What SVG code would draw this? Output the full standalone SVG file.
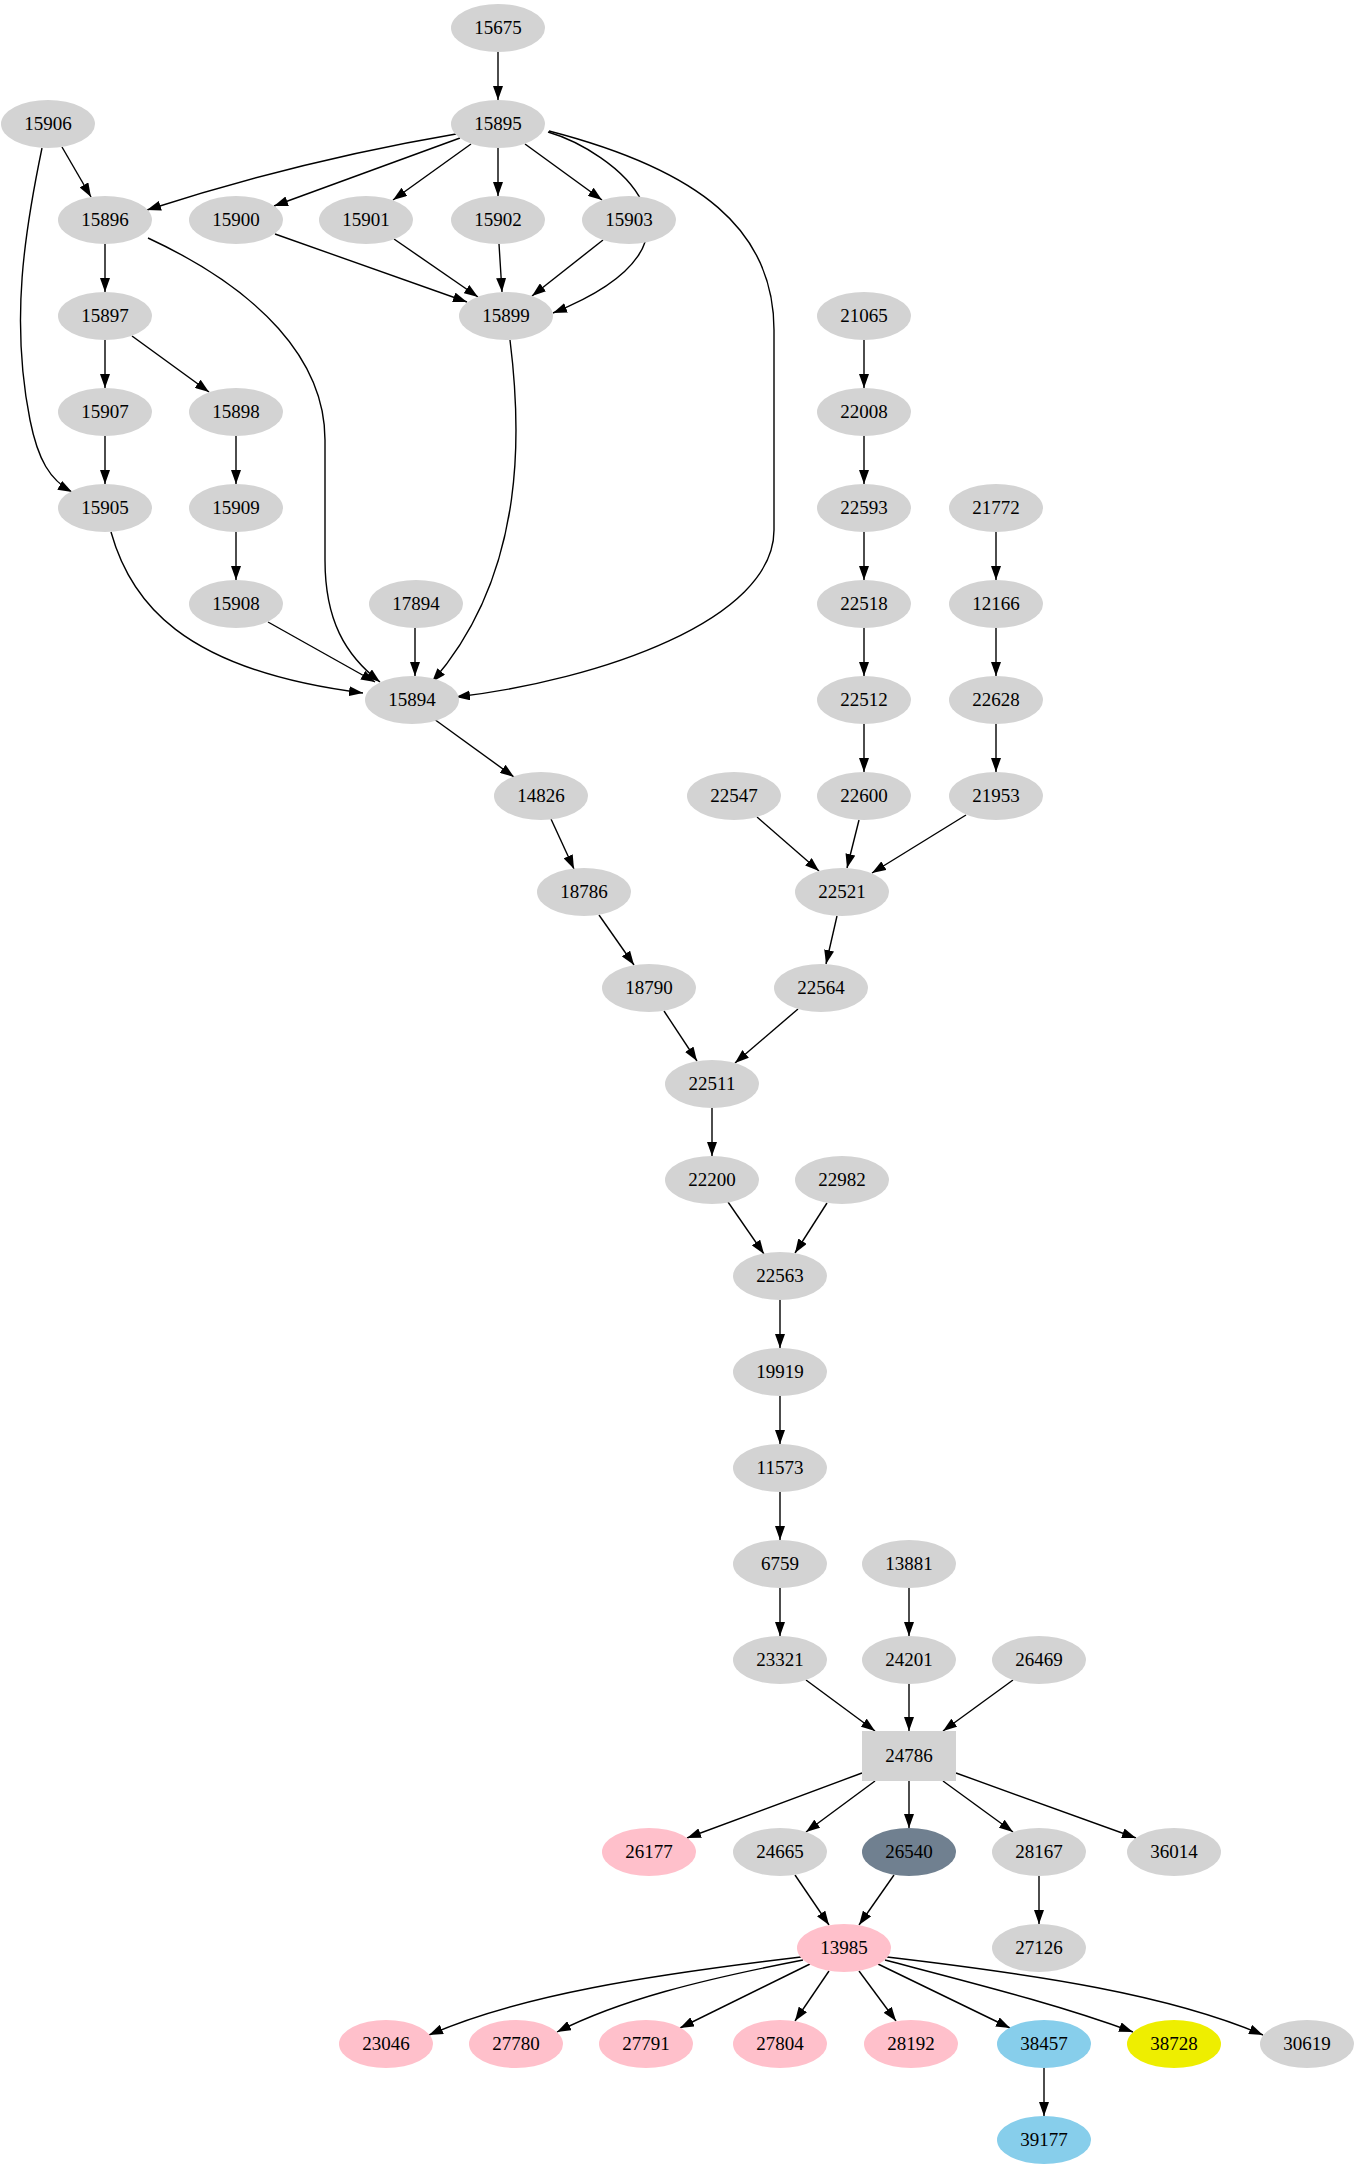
<svg xmlns="http://www.w3.org/2000/svg" width="1369" height="2171" viewBox="0 0 1369 2171">
<style>
.n ellipse,.n rect{fill:#d3d3d3;stroke:none}
.p ellipse{fill:#ffc0cb}
.s ellipse{fill:#87ceeb}
text{font-family:"Liberation Serif","Times New Roman",serif;font-size:19px;text-anchor:middle;fill:#000}
#edges path,#edges line{stroke:#000;stroke-width:1.4;fill:none;marker-end:url(#a)}
</style>
<defs><marker id="a" markerUnits="userSpaceOnUse" markerWidth="14" markerHeight="10" refX="14" refY="5" orient="auto"><path d="M0,0L14,5L0,10z" fill="#000"/></marker></defs>
<rect width="1369" height="2171" fill="#fff"/>
<g id="edges">
<line x1="498" y1="52" x2="498" y2="100"/>
<line x1="62" y1="147" x2="91" y2="197"/>
<path d="M456,134 C350,152 240,180 147,210"/>
<line x1="460" y1="138" x2="274" y2="206"/>
<line x1="471" y1="144" x2="393" y2="200"/>
<line x1="498" y1="148" x2="498" y2="196"/>
<line x1="525" y1="144" x2="602" y2="200"/>
<path d="M548,132 C610,150 735,240 553,313"/>
<path d="M549,131 C700,170 774,230 774,330 L774,530 C774,620 600,680 456,697"/>
<line x1="105" y1="244" x2="105" y2="292"/>
<path d="M148,238 C260,290 325,360 325,440 L325,560 C325,620 345,655 380,682"/>
<line x1="105" y1="340" x2="105" y2="388"/>
<line x1="132" y1="336" x2="209" y2="392"/>
<line x1="236" y1="436" x2="236" y2="484"/>
<line x1="105" y1="436" x2="105" y2="484"/>
<path d="M42,148 C25,230 10,320 30,420 C38,460 50,480 72,492"/>
<line x1="236" y1="532" x2="236" y2="580"/>
<line x1="268" y1="622" x2="375" y2="682"/>
<line x1="415" y1="628" x2="415" y2="676"/>
<path d="M510,340 C520,420 530,570 432,682"/>
<path d="M111,532 C130,600 180,670 363,693"/>
<line x1="275" y1="234" x2="467" y2="302"/>
<line x1="394" y1="239" x2="478" y2="297"/>
<line x1="499" y1="244" x2="502" y2="292"/>
<line x1="603" y1="240" x2="532" y2="296"/>
<line x1="864" y1="340" x2="864" y2="388"/>
<line x1="864" y1="436" x2="864" y2="484"/>
<line x1="864" y1="532" x2="864" y2="580"/>
<line x1="864" y1="628" x2="864" y2="676"/>
<line x1="864" y1="724" x2="864" y2="772"/>
<line x1="996" y1="532" x2="996" y2="580"/>
<line x1="996" y1="628" x2="996" y2="676"/>
<line x1="996" y1="724" x2="996" y2="772"/>
<line x1="434" y1="719" x2="514" y2="777"/>
<line x1="551" y1="819" x2="574" y2="869"/>
<line x1="599" y1="915" x2="634" y2="965"/>
<line x1="757" y1="817" x2="819" y2="871"/>
<line x1="859" y1="820" x2="847" y2="868"/>
<line x1="966" y1="815" x2="872" y2="873"/>
<line x1="837" y1="916" x2="826" y2="964"/>
<line x1="664" y1="1011" x2="697" y2="1061"/>
<line x1="798" y1="1009" x2="735" y2="1063"/>
<line x1="712" y1="1108" x2="712" y2="1156"/>
<line x1="728" y1="1202" x2="764" y2="1254"/>
<line x1="827" y1="1203" x2="795" y2="1253"/>
<line x1="780" y1="1300" x2="780" y2="1348"/>
<line x1="780" y1="1396" x2="780" y2="1444"/>
<line x1="780" y1="1492" x2="780" y2="1540"/>
<line x1="780" y1="1588" x2="780" y2="1636"/>
<line x1="909" y1="1588" x2="909" y2="1636"/>
<line x1="806" y1="1680" x2="875" y2="1731"/>
<line x1="909" y1="1684" x2="909" y2="1731"/>
<line x1="1013" y1="1680" x2="943" y2="1731"/>
<line x1="862" y1="1773" x2="687" y2="1838"/>
<line x1="875" y1="1781" x2="806" y2="1832"/>
<line x1="909" y1="1781" x2="909" y2="1828"/>
<line x1="943" y1="1781" x2="1013" y2="1832"/>
<line x1="956" y1="1773" x2="1136" y2="1838"/>
<line x1="795" y1="1875" x2="829" y2="1925"/>
<line x1="894" y1="1875" x2="859" y2="1925"/>
<line x1="1039" y1="1876" x2="1039" y2="1924"/>
<path d="M801,1957 C650,1975 520,1995 429,2035"/>
<path d="M803,1960 C700,1980 620,2000 557,2032"/>
<line x1="810" y1="1964" x2="680" y2="2028"/>
<line x1="829" y1="1971" x2="795" y2="2021"/>
<line x1="859" y1="1971" x2="896" y2="2021"/>
<line x1="878" y1="1964" x2="1010" y2="2028"/>
<path d="M885,1960 C980,1985 1060,2005 1133,2032"/>
<path d="M887,1957 C1040,1975 1170,1995 1263,2035"/>
<line x1="1044" y1="2068" x2="1044" y2="2116"/>
</g>
<g id="n15675" class="n"><ellipse cx="498" cy="28" rx="47" ry="24"/><text x="498" y="34">15675</text></g>
<g id="n15906" class="n"><ellipse cx="48" cy="124" rx="47" ry="24"/><text x="48" y="130">15906</text></g>
<g id="n15895" class="n"><ellipse cx="498" cy="124" rx="47" ry="24"/><text x="498" y="130">15895</text></g>
<g id="n15896" class="n"><ellipse cx="105" cy="220" rx="47" ry="24"/><text x="105" y="226">15896</text></g>
<g id="n15900" class="n"><ellipse cx="236" cy="220" rx="47" ry="24"/><text x="236" y="226">15900</text></g>
<g id="n15901" class="n"><ellipse cx="366" cy="220" rx="47" ry="24"/><text x="366" y="226">15901</text></g>
<g id="n15902" class="n"><ellipse cx="498" cy="220" rx="47" ry="24"/><text x="498" y="226">15902</text></g>
<g id="n15903" class="n"><ellipse cx="629" cy="220" rx="47" ry="24"/><text x="629" y="226">15903</text></g>
<g id="n15897" class="n"><ellipse cx="105" cy="316" rx="47" ry="24"/><text x="105" y="322">15897</text></g>
<g id="n15899" class="n"><ellipse cx="506" cy="316" rx="47" ry="24"/><text x="506" y="322">15899</text></g>
<g id="n21065" class="n"><ellipse cx="864" cy="316" rx="47" ry="24"/><text x="864" y="322">21065</text></g>
<g id="n15907" class="n"><ellipse cx="105" cy="412" rx="47" ry="24"/><text x="105" y="418">15907</text></g>
<g id="n15898" class="n"><ellipse cx="236" cy="412" rx="47" ry="24"/><text x="236" y="418">15898</text></g>
<g id="n22008" class="n"><ellipse cx="864" cy="412" rx="47" ry="24"/><text x="864" y="418">22008</text></g>
<g id="n15905" class="n"><ellipse cx="105" cy="508" rx="47" ry="24"/><text x="105" y="514">15905</text></g>
<g id="n15909" class="n"><ellipse cx="236" cy="508" rx="47" ry="24"/><text x="236" y="514">15909</text></g>
<g id="n22593" class="n"><ellipse cx="864" cy="508" rx="47" ry="24"/><text x="864" y="514">22593</text></g>
<g id="n21772" class="n"><ellipse cx="996" cy="508" rx="47" ry="24"/><text x="996" y="514">21772</text></g>
<g id="n15908" class="n"><ellipse cx="236" cy="604" rx="47" ry="24"/><text x="236" y="610">15908</text></g>
<g id="n17894" class="n"><ellipse cx="416" cy="604" rx="47" ry="24"/><text x="416" y="610">17894</text></g>
<g id="n22518" class="n"><ellipse cx="864" cy="604" rx="47" ry="24"/><text x="864" y="610">22518</text></g>
<g id="n12166" class="n"><ellipse cx="996" cy="604" rx="47" ry="24"/><text x="996" y="610">12166</text></g>
<g id="n15894" class="n"><ellipse cx="412" cy="700" rx="47" ry="24"/><text x="412" y="706">15894</text></g>
<g id="n22512" class="n"><ellipse cx="864" cy="700" rx="47" ry="24"/><text x="864" y="706">22512</text></g>
<g id="n22628" class="n"><ellipse cx="996" cy="700" rx="47" ry="24"/><text x="996" y="706">22628</text></g>
<g id="n14826" class="n"><ellipse cx="541" cy="796" rx="47" ry="24"/><text x="541" y="802">14826</text></g>
<g id="n22547" class="n"><ellipse cx="734" cy="796" rx="47" ry="24"/><text x="734" y="802">22547</text></g>
<g id="n22600" class="n"><ellipse cx="864" cy="796" rx="47" ry="24"/><text x="864" y="802">22600</text></g>
<g id="n21953" class="n"><ellipse cx="996" cy="796" rx="47" ry="24"/><text x="996" y="802">21953</text></g>
<g id="n18786" class="n"><ellipse cx="584" cy="892" rx="47" ry="24"/><text x="584" y="898">18786</text></g>
<g id="n22521" class="n"><ellipse cx="842" cy="892" rx="47" ry="24"/><text x="842" y="898">22521</text></g>
<g id="n18790" class="n"><ellipse cx="649" cy="988" rx="47" ry="24"/><text x="649" y="994">18790</text></g>
<g id="n22564" class="n"><ellipse cx="821" cy="988" rx="47" ry="24"/><text x="821" y="994">22564</text></g>
<g id="n22511" class="n"><ellipse cx="712" cy="1084" rx="47" ry="24"/><text x="712" y="1090">22511</text></g>
<g id="n22200" class="n"><ellipse cx="712" cy="1180" rx="47" ry="24"/><text x="712" y="1186">22200</text></g>
<g id="n22982" class="n"><ellipse cx="842" cy="1180" rx="47" ry="24"/><text x="842" y="1186">22982</text></g>
<g id="n22563" class="n"><ellipse cx="780" cy="1276" rx="47" ry="24"/><text x="780" y="1282">22563</text></g>
<g id="n19919" class="n"><ellipse cx="780" cy="1372" rx="47" ry="24"/><text x="780" y="1378">19919</text></g>
<g id="n11573" class="n"><ellipse cx="780" cy="1468" rx="47" ry="24"/><text x="780" y="1474">11573</text></g>
<g id="n6759" class="n"><ellipse cx="780" cy="1564" rx="47" ry="24"/><text x="780" y="1570">6759</text></g>
<g id="n13881" class="n"><ellipse cx="909" cy="1564" rx="47" ry="24"/><text x="909" y="1570">13881</text></g>
<g id="n23321" class="n"><ellipse cx="780" cy="1660" rx="47" ry="24"/><text x="780" y="1666">23321</text></g>
<g id="n24201" class="n"><ellipse cx="909" cy="1660" rx="47" ry="24"/><text x="909" y="1666">24201</text></g>
<g id="n26469" class="n"><ellipse cx="1039" cy="1660" rx="47" ry="24"/><text x="1039" y="1666">26469</text></g>
<g id="n24786" class="n"><rect x="862" y="1731" width="94" height="50"/><text x="909" y="1762">24786</text></g>
<g id="n26177" class="n p"><ellipse cx="649" cy="1852" rx="47" ry="24"/><text x="649" y="1858">26177</text></g>
<g id="n24665" class="n"><ellipse cx="780" cy="1852" rx="47" ry="24"/><text x="780" y="1858">24665</text></g>
<g id="n26540" class="n"><ellipse cx="909" cy="1852" rx="47" ry="24" style="fill:#708090"/><text x="909" y="1858">26540</text></g>
<g id="n28167" class="n"><ellipse cx="1039" cy="1852" rx="47" ry="24"/><text x="1039" y="1858">28167</text></g>
<g id="n36014" class="n"><ellipse cx="1174" cy="1852" rx="47" ry="24"/><text x="1174" y="1858">36014</text></g>
<g id="n13985" class="n p"><ellipse cx="844" cy="1948" rx="47" ry="24"/><text x="844" y="1954">13985</text></g>
<g id="n27126" class="n"><ellipse cx="1039" cy="1948" rx="47" ry="24"/><text x="1039" y="1954">27126</text></g>
<g id="n23046" class="n p"><ellipse cx="386" cy="2044" rx="47" ry="24"/><text x="386" y="2050">23046</text></g>
<g id="n27780" class="n p"><ellipse cx="516" cy="2044" rx="47" ry="24"/><text x="516" y="2050">27780</text></g>
<g id="n27791" class="n p"><ellipse cx="646" cy="2044" rx="47" ry="24"/><text x="646" y="2050">27791</text></g>
<g id="n27804" class="n p"><ellipse cx="780" cy="2044" rx="47" ry="24"/><text x="780" y="2050">27804</text></g>
<g id="n28192" class="n p"><ellipse cx="911" cy="2044" rx="47" ry="24"/><text x="911" y="2050">28192</text></g>
<g id="n38457" class="n s"><ellipse cx="1044" cy="2044" rx="47" ry="24"/><text x="1044" y="2050">38457</text></g>
<g id="n38728" class="n"><ellipse cx="1174" cy="2044" rx="47" ry="24" style="fill:#eeee00"/><text x="1174" y="2050">38728</text></g>
<g id="n30619" class="n"><ellipse cx="1307" cy="2044" rx="47" ry="24"/><text x="1307" y="2050">30619</text></g>
<g id="n39177" class="n s"><ellipse cx="1044" cy="2140" rx="47" ry="24"/><text x="1044" y="2146">39177</text></g>
</svg>
